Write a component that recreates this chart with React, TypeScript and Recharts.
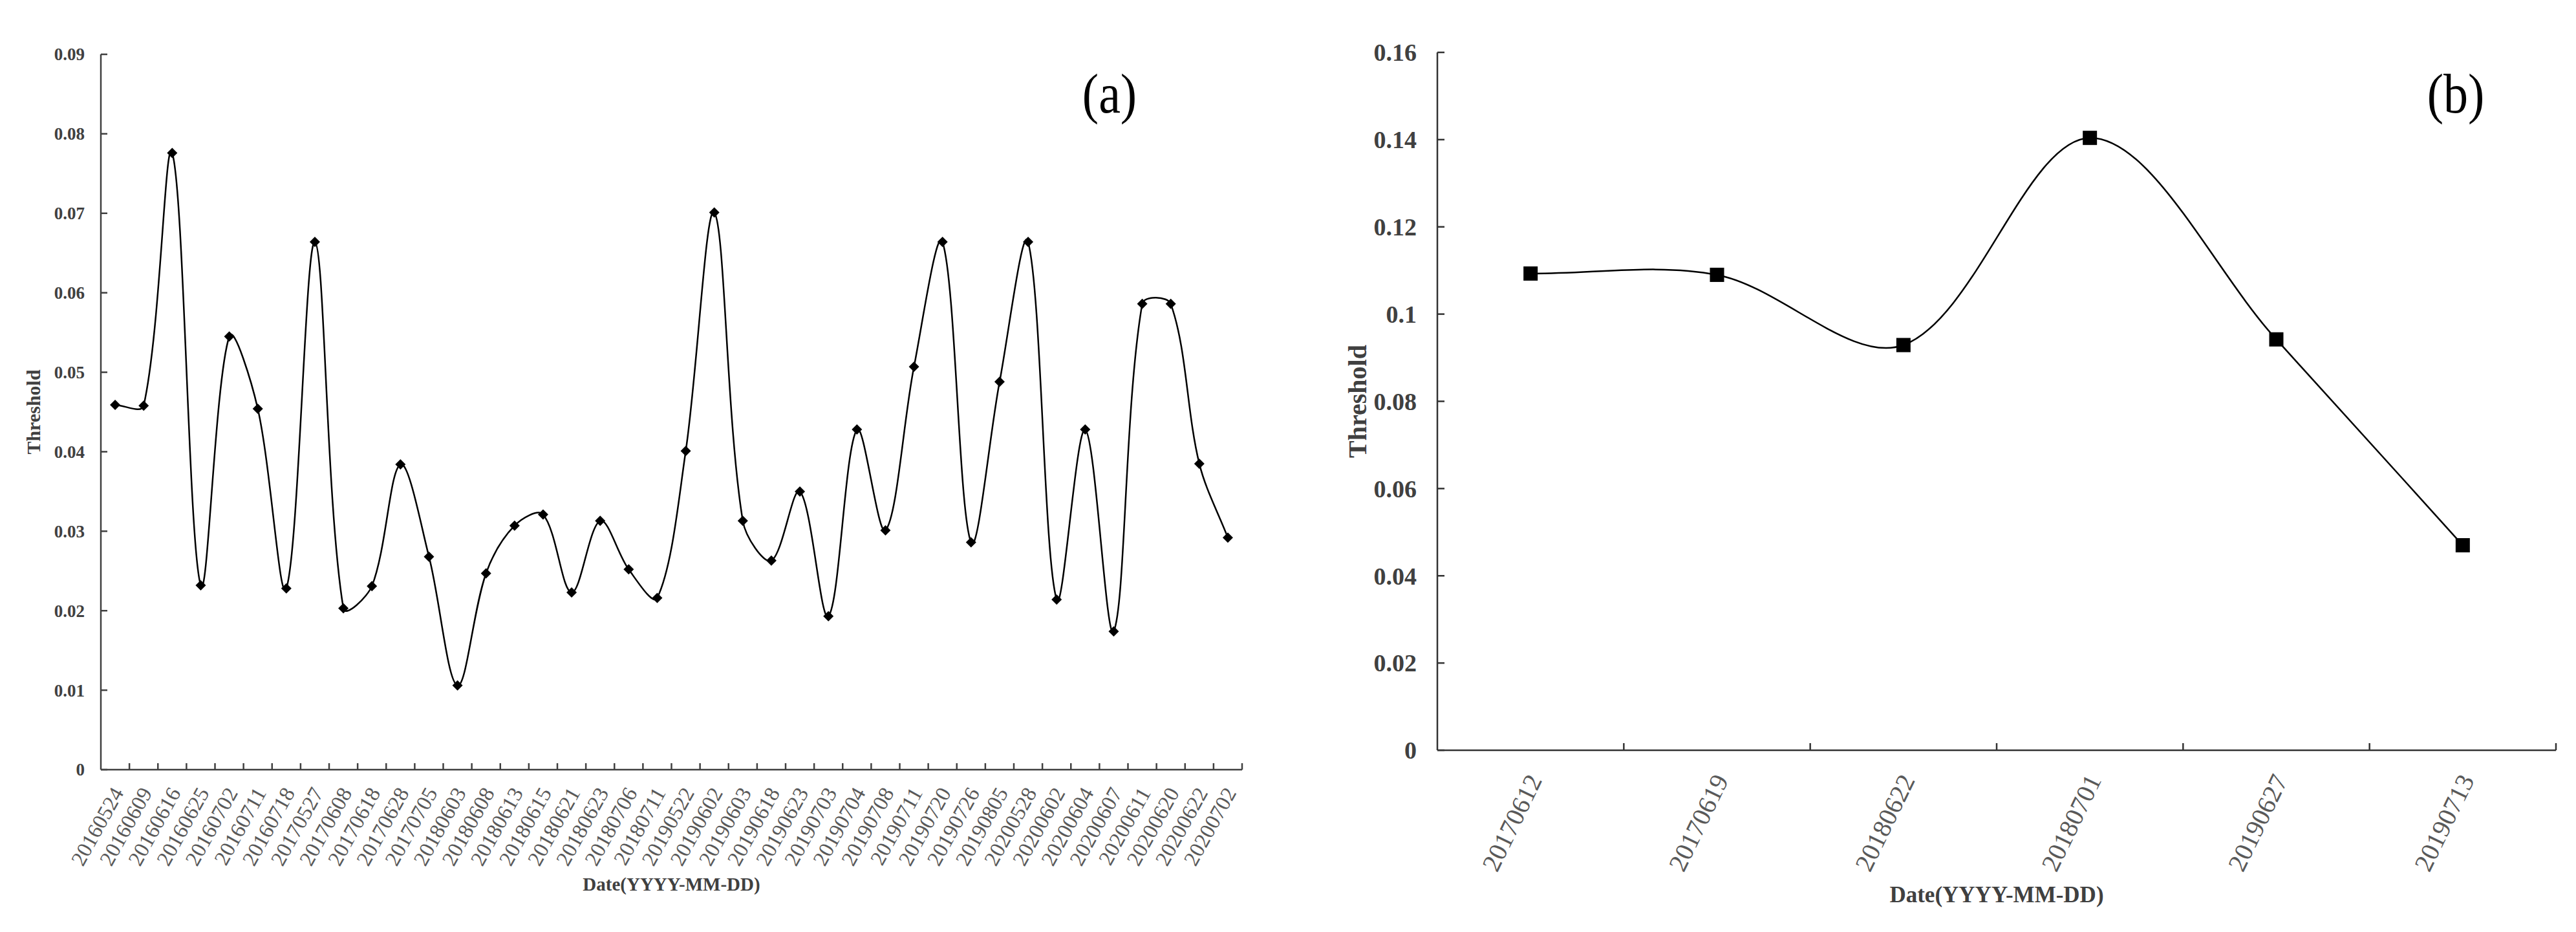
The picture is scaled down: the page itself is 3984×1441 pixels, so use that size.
import React from 'react';
import { LineChart, Line, XAxis, YAxis } from 'recharts';

const datesA = [
  '20160524', '20160609', '20160616', '20160625', '20160702', '20160711', '20160718', '20170527',
  '20170608', '20170618', '20170628', '20170705', '20180603', '20180608', '20180613', '20180615',
  '20180621', '20180623', '20180706', '20180711', '20190522', '20190602', '20190603', '20190618',
  '20190623', '20190703', '20190704', '20190708', '20190711', '20190720', '20190726', '20190805',
  '20200528', '20200602', '20200604', '20200607', '20200611', '20200620', '20200622', '20200702',
];
const thresholdA = [
  0.0459, 0.0458, 0.0776, 0.0232, 0.0545, 0.0454, 0.0228, 0.0664,
  0.0203, 0.0231, 0.0384, 0.0268, 0.0106, 0.0247, 0.0307, 0.0321,
  0.0223, 0.0313, 0.0252, 0.0216, 0.0401, 0.0701, 0.0313, 0.0263,
  0.035, 0.0193, 0.0428, 0.0301, 0.0507, 0.0664, 0.0286, 0.0488,
  0.0664, 0.0214, 0.0428, 0.0174, 0.0586, 0.0586, 0.0385, 0.0292,
];
const ticksA = [0, 0.01, 0.02, 0.03, 0.04, 0.05, 0.06, 0.07, 0.08, 0.09];

const datesB = ['20170612', '20170619', '20180622', '20180701', '20190627', '20190713'];
const thresholdB = [0.1093, 0.109, 0.0929, 0.1404, 0.0942, 0.047];
const ticksB = [0, 0.02, 0.04, 0.06, 0.08, 0.1, 0.12, 0.14, 0.16];

const dataA = datesA.map((date, i) => ({ date, threshold: thresholdA[i] }));
const dataB = datesB.map((date, i) => ({ date, threshold: thresholdB[i] }));

const serif = '"Liberation Serif", "Times New Roman", serif';
const fmt = (v: number) => String(Number(v.toFixed(2)));

// smoothed line like Excel's: bezier through every point, tangents weighted by chord length
const smoothCurve = (context: any) => {
  let pts: number[][] = [];
  const dist = (a: number[], b: number[]) => Math.hypot(b[0] - a[0], b[1] - a[1]);
  return {
    areaStart() {},
    areaEnd() {},
    lineStart() { pts = []; },
    point(x: number, y: number) { pts.push([+x, +y]); },
    lineEnd() {
      if (!pts.length) return;
      context.moveTo(pts[0][0], pts[0][1]);
      for (let i = 0; i < pts.length - 1; i++) {
        const p0 = pts[i - 1] || pts[i];
        const p1 = pts[i];
        const p2 = pts[i + 1];
        const p3 = pts[i + 2] || p2;
        const d01 = dist(p0, p1);
        const d12 = dist(p1, p2);
        const d23 = dist(p2, p3);
        const f1 = d01 + d12 > 0 ? d12 / (d01 + d12) / 3 : 0;
        const f2 = d12 + d23 > 0 ? d12 / (d12 + d23) / 3 : 0;
        context.bezierCurveTo(
          p1[0] + (p2[0] - p0[0]) * f1, p1[1] + (p2[1] - p0[1]) * f1,
          p2[0] - (p3[0] - p1[0]) * f2, p2[1] - (p3[1] - p1[1]) * f2,
          p2[0], p2[1],
        );
      }
    },
  };
};

const yTick = (o: { gap: number; size: number; len: number; color: string; axis: string }) => (props: any) => {
  const { x, y, payload } = props;
  return (
    <g>
      <line x1={x} x2={x + o.len} y1={y} y2={y} stroke={o.axis} strokeWidth={2.5} />
      <text x={x - o.gap} y={y} dy="0.35em" textAnchor="end" fontFamily={serif} fontWeight="bold"
        fontSize={o.size} fill={o.color}>{fmt(payload.value)}</text>
    </g>
  );
};

const xTick = (o: { band: number; dx: number; dy: number; size: number; len: number; angle: number; axis: string }) => (props: any) => {
  const { x, y, payload } = props;
  const edge = x + o.band / 2;
  const tx = x + o.dx;
  const ty = y + o.dy;
  return (
    <g>
      <line x1={edge} x2={edge} y1={y} y2={y - o.len} stroke={o.axis} strokeWidth={2.5} />
      <text x={tx} y={ty} dy="0.35em" textAnchor="end" transform={`rotate(${o.angle} ${tx} ${ty})`}
        fontFamily={serif} fontSize={o.size} fill="#595959">{payload.value}</text>
    </g>
  );
};

const diamondDot = (props: any) => {
  const { cx, cy, index } = props;
  const r = 8;
  return <path key={`d${index}`} d={`M${cx},${cy - r}L${cx + r},${cy}L${cx},${cy + r}L${cx - r},${cy}Z`} fill="#000" />;
};

const squareDot = (props: any) => {
  const { cx, cy, index } = props;
  const s = 11;
  return <rect key={`s${index}`} x={cx - s} y={cy - s} width={s * 2} height={s * 2} fill="#000" />;
};

const panelLabel: React.CSSProperties = {
  position: 'absolute',
  fontFamily: serif,
  fontSize: 76,
  color: '#000',
  lineHeight: 1,
  transform: 'translate(-50%, -50%) scaleY(1.15)',
};

export default function App() {
  return (
    <div style={{ position: 'absolute', left: 0, top: 0, width: 3984, height: 1441, background: '#fff', overflow: 'hidden' }}>
      <div style={{ position: 'absolute', left: 0, top: 0 }}>
        <LineChart width={1960} height={1441} data={dataA} margin={{ top: 84, right: 39, bottom: 0, left: 0 }}>
          <XAxis dataKey="date" scale="band" interval={0} height={251} tickSize={0} tickMargin={0}
            axisLine={{ stroke: '#404040', strokeWidth: 2.5 }} tickLine={false}
            tick={xTick({ band: 1765 / 40, dx: 4, dy: 30, size: 33, len: 10, angle: -61, axis: '#404040' })}
            label={{ value: 'Date(YYYY-MM-DD)', position: 'insideBottom', offset: 64, fontFamily: serif,
              fontWeight: 'bold', fontSize: 29, fill: '#404040' }} />
          <YAxis domain={[0, 0.09]} ticks={ticksA} interval={0} width={156} tickSize={0} tickMargin={0}
            axisLine={{ stroke: '#404040', strokeWidth: 2.5 }} tickLine={false}
            tick={yTick({ gap: 25, size: 27, len: 10, color: '#404040', axis: '#404040' })}
            label={{ value: 'Threshold', angle: -90, position: 'insideLeft', offset: 51, style: { textAnchor: 'middle' },
              fontFamily: serif, fontWeight: 'bold', fontSize: 30, fill: '#404040' }} />
          <Line dataKey="threshold" type={smoothCurve as any} stroke="#000" strokeWidth={2.5}
            dot={diamondDot} activeDot={false} isAnimationActive={false} />
        </LineChart>
      </div>
      <div style={{ position: 'absolute', left: 1990, top: 0 }}>
        <LineChart width={1994} height={1441} data={dataB} margin={{ top: 81, right: 31, bottom: 0, left: 0 }}>
          <XAxis dataKey="date" scale="band" interval={0} height={281} tickSize={0} tickMargin={0}
            axisLine={{ stroke: '#333', strokeWidth: 2.5 }} tickLine={false}
            tick={xTick({ band: 1730 / 6, dx: 6, dy: 40, size: 40, len: 11, angle: -64, axis: '#333' })}
            label={{ value: 'Date(YYYY-MM-DD)', position: 'insideBottom', offset: 46, fontFamily: serif,
              fontWeight: 'bold', fontSize: 35, fill: '#404040' }} />
          <YAxis domain={[0, 0.16]} ticks={ticksB} interval={0} width={233} tickSize={0} tickMargin={0}
            axisLine={{ stroke: '#333', strokeWidth: 2.5 }} tickLine={false}
            tick={yTick({ gap: 32, size: 38, len: 11, color: '#404040', axis: '#333' })}
            label={{ value: 'Threshold', angle: -90, position: 'insideLeft', offset: 109, style: { textAnchor: 'middle' },
              fontFamily: serif, fontWeight: 'bold', fontSize: 40, fill: '#404040' }} />
          <Line dataKey="threshold" type={smoothCurve as any} stroke="#000" strokeWidth={2.5}
            dot={squareDot} activeDot={false} isAnimationActive={false} />
        </LineChart>
      </div>
      <div style={{ ...panelLabel, left: 1716, top: 144 }}>(a)</div>
      <div style={{ ...panelLabel, left: 3798, top: 144 }}>(b)</div>
    </div>
  );
}
